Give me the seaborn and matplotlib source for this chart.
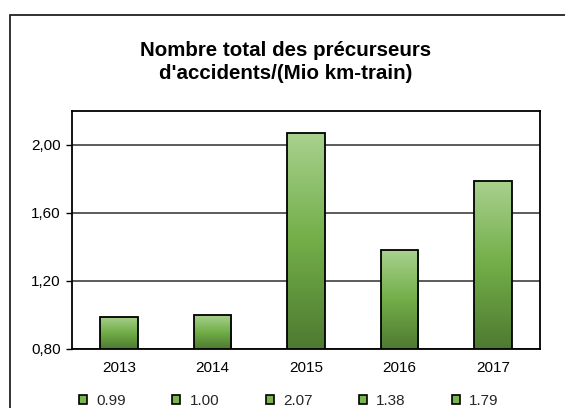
import numpy as np
import pandas as pd
import matplotlib
matplotlib.use('Agg')
import matplotlib.pyplot as plt
import seaborn as sns
from matplotlib.colors import LinearSegmentedColormap
from matplotlib.patches import Rectangle, Patch
from matplotlib.ticker import FuncFormatter, FixedLocator

# Data
years = ['2013', '2014', '2015', '2016', '2017']
values = [0.99, 1.00, 2.07, 1.38, 1.79]
legend_labels = ['0.99', '1.00', '2.07', '1.38', '1.79']
title_lines = ['Nombre total des précurseurs', "d'accidents/(Mio km-train)"]

df = pd.DataFrame({'year': years, 'value': values})

sns.set_style('white')
plt.rcParams['font.family'] = ['Liberation Sans', 'DejaVu Sans']

W, H = 565, 408
fig = plt.figure(figsize=(W / 100, H / 100), dpi=100)
ax = fig.add_axes([72 / W, 1 - 349 / H, (540 - 72) / W, (349 - 111) / H])

sns.barplot(data=df, x='year', y='value', ax=ax, width=0.4, color='#72ae48',
            edgecolor='black', linewidth=1.3, zorder=2)

# green gradient inside each bar (light top -> dark bottom)
cmap = LinearSegmentedColormap.from_list(
    'bar', [(0.0, '#4e7a31'), (0.5, '#72ae48'), (1.0, '#a9d18e')])
grad = np.linspace(0, 1, 256).reshape(-1, 1)
for p in ax.patches:
    x0, y0 = p.get_x(), p.get_y()
    w, h = p.get_width(), p.get_height()
    ylo = 0.8
    im = ax.imshow(grad, extent=[x0, x0 + w, ylo, y0 + h], origin='lower',
                   cmap=cmap, aspect='auto', zorder=1.5)
    im.set_clip_path(p)
    p.set_facecolor('none')

ax.set_xlim(-0.5, 4.5)
ax.set_ylim(0.8, 2.2)
ax.set_xlabel('')
ax.set_ylabel('')

ax.set_yticks([0.8, 1.2, 1.6, 2.0])
ax.yaxis.set_major_formatter(FuncFormatter(lambda v, _: f'{v:.2f}'.replace('.', ',')))
ax.yaxis.grid(True, color='#404040', linewidth=1.2)
ax.set_axisbelow(True)

ax.xaxis.set_minor_locator(FixedLocator(np.arange(-0.5, 5, 1)))
ax.tick_params(axis='x', which='major', length=0, pad=9, labelsize=11, colors='black')
ax.tick_params(axis='x', which='minor', length=4, width=1, direction='out', color='black')
ax.tick_params(axis='y', length=4, width=1, direction='out', pad=4, labelsize=11,
               colors='black', left=True)

for s in ax.spines.values():
    s.set_visible(True)
    s.set_color('black')
    s.set_linewidth(1.3)

# title
fig.text(286 / W, 1 - 56 / H, title_lines[0], ha='center', va='baseline',
         fontsize=14.8, fontweight='bold', color='black')
fig.text(286 / W, 1 - 79 / H, title_lines[1], ha='center', va='baseline',
         fontsize=14.8, fontweight='bold', color='black')

# outer chart frame (runs off the right and bottom edges)
fig.patches.append(Rectangle((10 / W, -0.1), 1.0, 1.1 - 14.7 / H,
                             transform=fig.transFigure, fill=False,
                             edgecolor='#222222', linewidth=1.3))

# legend row
handles = [Patch(facecolor='#7ab552', edgecolor='black', linewidth=1.2) for _ in legend_labels]
fig.legend(handles, legend_labels, loc='center left',
           bbox_to_anchor=(79 / W, 1 - 401 / H), ncol=5, frameon=False,
           fontsize=11, handlelength=0.52, handleheight=0.52,
           handletextpad=0.6, columnspacing=3.05, borderpad=0, borderaxespad=0)

fig.savefig('out.png', dpi=100)
